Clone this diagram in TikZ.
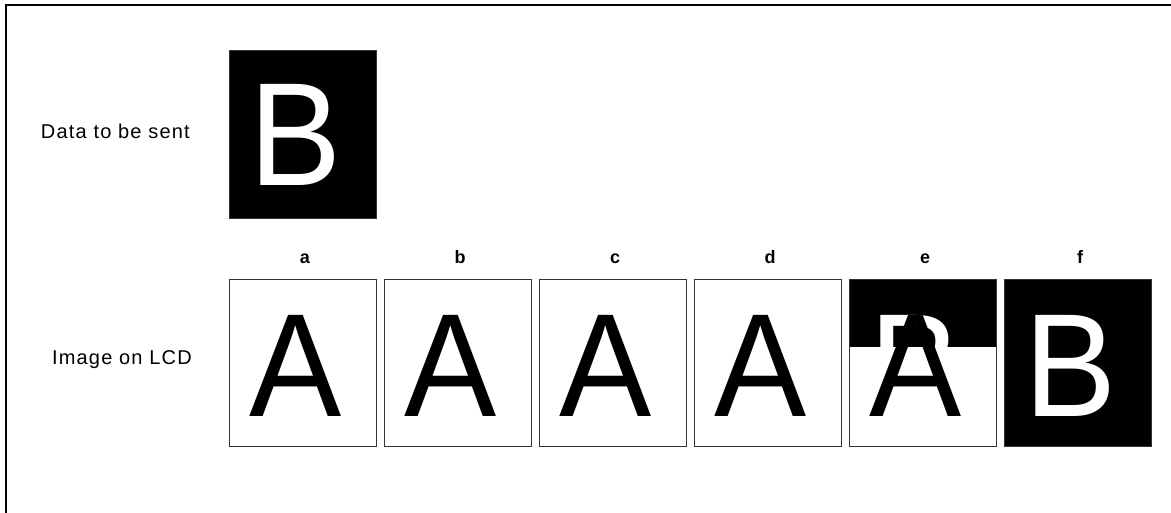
\documentclass[tikz,border=0pt]{standalone}
\usepackage{fontspec}
\setmainfont{Liberation Sans}
\newfontfamily\labelfont[LetterSpace=6]{Liberation Sans}
\newfontfamily\glyphfont[FakeStretch=0.94]{Liberation Sans}

\begin{document}
\begin{tikzpicture}[x=1pt,y=-1pt,
 frame/.style={draw=black!80,line width=0.8pt,minimum width=147pt,minimum height=167pt,inner sep=0pt,outer sep=0pt,anchor=north west},
 glyph/.style={font=\glyphfont\fontsize{147}{147}\selectfont,inner sep=0pt,anchor=base},
 tag/.style={font=\bfseries\fontsize{18}{18}\selectfont,inner sep=0pt,anchor=base},
 caption/.style={font=\labelfont\fontsize{20}{20}\selectfont,inner sep=0pt,anchor=base east}]
\useasboundingbox (0,0) rectangle (1171,513);
\draw[line width=2pt](1171,5)--(6,5)--(6,513);
% data to be sent
\node[caption] (capsent) at (190,139) {Data to be sent};
\node[frame,fill=black,minimum height=168pt] (sent) at (229,50) {};
\node[glyph,white] (sentB) at (296,186) {B};
% image on LCD
\node[caption] (caplcd) at (192,364) {Image on LCD};
\foreach \n [count=\i from 0] in {a,b,c,d}{
 \node[frame] (lcd\n) at (229+155*\i,279) {};
 \node[glyph] (glyph\n) at (295.5+155*\i,416) {A};
}
\foreach \n [count=\i from 0] in {a,b,c,d,e,f}
 \node[tag] (tag\n) at (305+155*\i,264) {\n};
% e: half refreshed
\fill (849,279) rectangle (996,347);
\begin{scope}
\clip (849,279) rectangle (996,347);
\node[glyph,white] (glypheB) at (916,416) {B};
\end{scope}
\node[glyph] (glypheA) at (915.5,416) {A};
\node[frame] (lcde) at (849,279) {};
% f: fully refreshed
\node[frame,fill=black] (lcdf) at (1004,279) {};
\node[glyph,white] (glyphf) at (1070.5,416) {B};
\end{tikzpicture}
\end{document}
